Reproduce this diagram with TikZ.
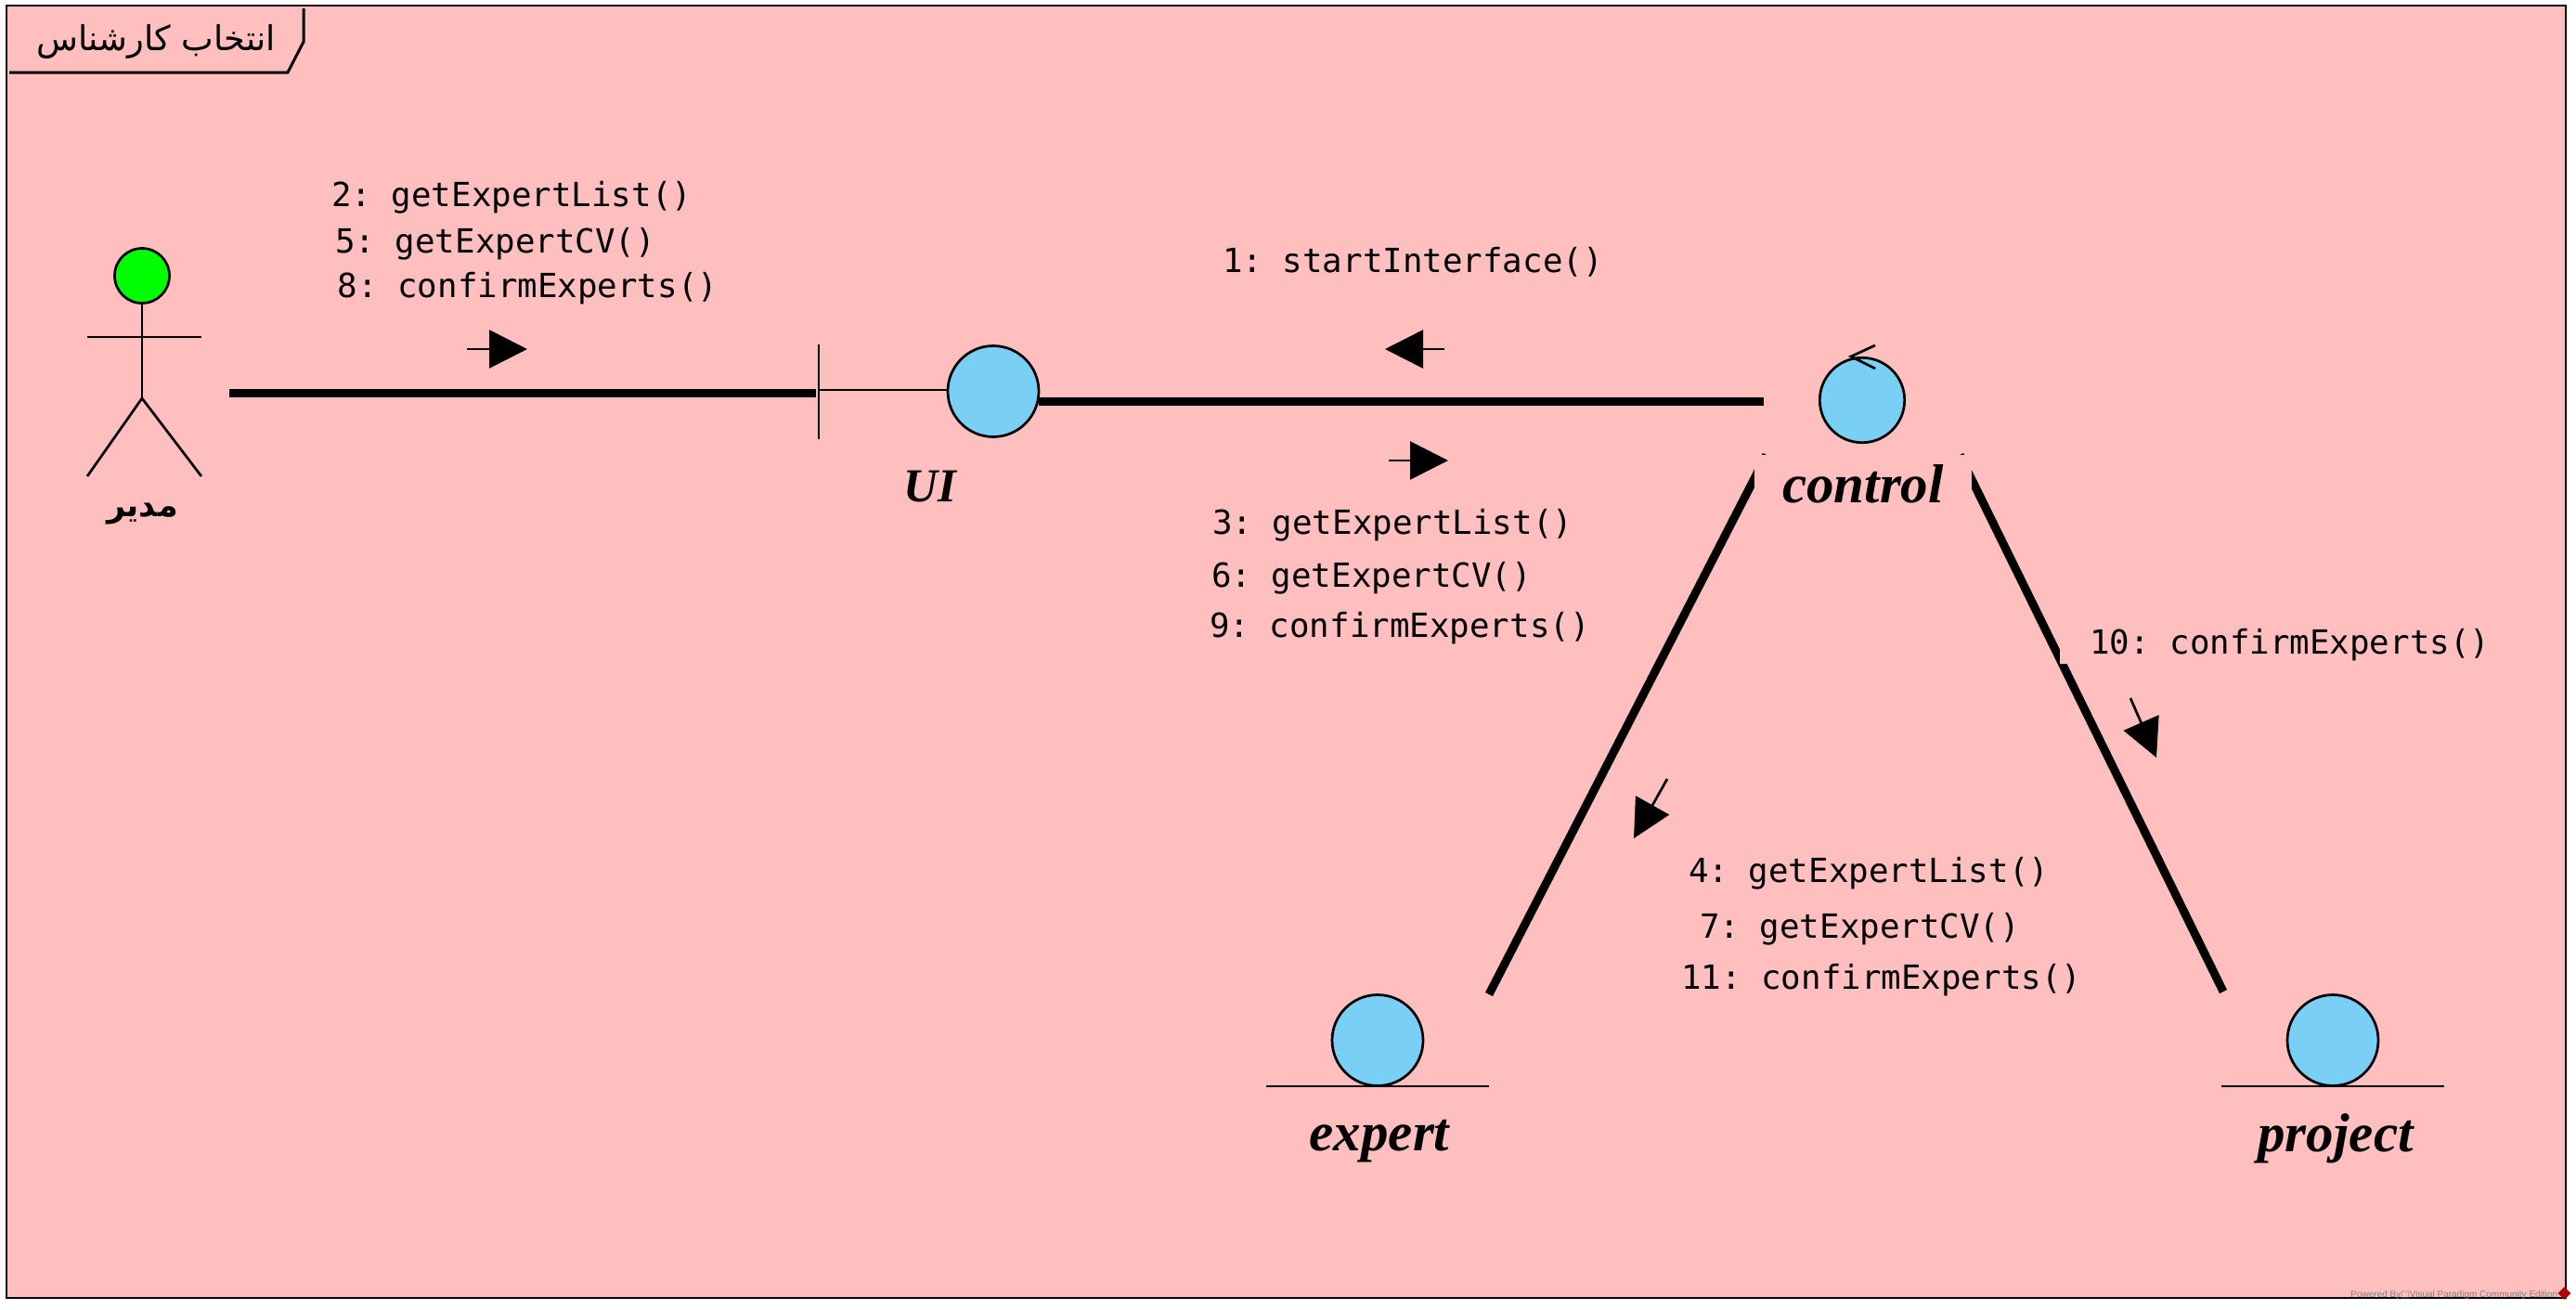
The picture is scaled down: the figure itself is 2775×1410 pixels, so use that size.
\documentclass[tikz,border=0pt]{standalone}
\usepackage{fontspec}
\usetikzlibrary{arrows.meta,shapes.geometric}
\TeXXeTstate=1
\setmainfont{Liberation Serif}
\newfontfamily\arabicfont[Script=Arabic]{DejaVu Sans}
\newfontfamily\msgfont{DejaVu Sans Mono}
\newfontfamily\markfont{Liberation Sans}
\newfontfamily\boxfont{DejaVu Sans}
\newcommand\msgtextfont{\msgfont\fontsize{17.9}{20}\selectfont\spaceskip=7.1pt\relax}
\definecolor{bgpink}{HTML}{FFBFBF}
\definecolor{entityblue}{HTML}{7ACFF5}
\tikzset{
  assoc/.style={line width=4.5pt},
  thinline/.style={line width=1.35pt},
  objcircle/.style={circle,draw,line width=1.35pt,fill=entityblue,minimum size=49pt,inner sep=0pt},
  objname/.style={anchor=base,inner sep=0pt,font=\bfseries\itshape\fontsize{29.5}{32}\selectfont},
  msg/.style={anchor=base west,inner sep=0pt,font=\msgtextfont},
  msgarrow/.style={thinline,-{Triangle[length=20.5pt,width=20.5pt]}}
}
\begin{document}
\begin{tikzpicture}[x=0.5pt,y=-0.5pt]

\useasboundingbox (0,0) rectangle (2775,1410) ;

\draw[line width=1.4pt,fill=bgpink] (7,6) rectangle (2764,1398) ;

\coordinate (pt_actor_east) at (247,423) ;
\coordinate (pt_ui_stop) at (879,423) ;
\coordinate (pt_ui_bar) at (882,420) ;
\coordinate (pt_ui_east) at (1119,432) ;
\coordinate (pt_ctrl_west) at (1900,432) ;
\coordinate (pt_ctrl_left) at (1903,490) ;
\coordinate (pt_ctrl_right) at (2111,490) ;
\coordinate (pt_expert_end) at (1604,1071) ;
\coordinate (pt_project_end) at (2395,1068) ;

% frame title
\draw[line width=1.5pt] (327,9) -- (327,45) -- (310,78) -- (10,78) ;
\node[inner sep=0pt,font=\arabicfont\fontsize{18.4}{20}\selectfont] (title) at (168,45) {\beginR انتخاب کارشناس\endR} ;

% thick links
\draw[assoc] (pt_actor_east) -- (pt_ui_stop) ;
\draw[assoc] (pt_ui_east) -- (pt_ctrl_west) ;
\draw[assoc] (pt_expert_end) -- (pt_ctrl_left) ;
\draw[assoc] (pt_project_end) -- (pt_ctrl_right) ;

% actor
\node[circle,draw,line width=1.35pt,fill=green,minimum size=29.5pt,inner sep=0pt] (actor_head) at (153,297) {} ;
\coordinate (pt_hip) at (153,429) ;
\draw[thinline] (actor_head) -- (pt_hip) ;
\draw[thinline] (94,363) -- (217,363) ;
\draw[thinline] (94,513) -- (pt_hip) -- (217,513) ;
\node[inner sep=0pt,font=\arabicfont\bfseries\fontsize{17.5}{19}\selectfont] (actor_name) at (153.5,553) {\beginR مدیر\endR} ;

% UI
\node[objcircle] (ui) at (1070,421.5) {} ;
\draw[thinline] (882,371) -- (882,473) ;
\draw[thinline] (pt_ui_bar) -- (ui.west |- pt_ui_bar) ;
\node[objname,font=\bfseries\itshape\fontsize{25.5}{28}\selectfont] (ui_name) at (1002,540) {UI} ;

% control
\node[objcircle,minimum size=45.7pt] (control) at (2006,431) {} ;
\draw[thinline] (control.north) ++(14,-12) -- ++(-26,12) -- ++(26,13) ;
\node[objname,fill=bgpink,minimum width=117pt,text height=25.5pt,text depth=10pt] (control_name) at (2007,541) {control} ;

% expert
\node[objcircle] (expert) at (1484,1120.5) {} ;
\draw[thinline] (1364,1170) -- (1604,1170) ;
\node[objname] (expert_name) at (1486,1239) {expert} ;

% project
\node[objcircle] (project) at (2513,1120.5) {} ;
\draw[thinline] (2393,1170) -- (2633,1170) ;
\node[objname] (project_name) at (2516,1240) {project} ;

% messages
\node[msg] (msg_a1) at (357,222) {2: getExpertList()} ;
\node[msg] (msg_a2) at (361,272) {5: getExpertCV()} ;
\node[msg] (msg_a3) at (363.5,320) {8: confirmExperts()} ;

\node[msg] (msg_b0) at (1317,293) {1: startInterface()} ;
\node[msg] (msg_b1) at (1306,575) {3: getExpertList()} ;
\node[msg] (msg_b2) at (1305,632) {6: getExpertCV()} ;
\node[msg] (msg_b3) at (1303,686.5) {9: confirmExperts()} ;

\node[msg,fill=bgpink,inner xsep=16pt,inner ysep=1.3pt] (msg_c1) at (2219,704.5) {10: confirmExperts()} ;

\node[msg] (msg_d1) at (1819,950) {4: getExpertList()} ;
\node[msg] (msg_d2) at (1831,1010) {7: getExpertCV()} ;
\node[msg] (msg_d3) at (1811,1065) {11: confirmExperts()} ;

% message arrows
\draw[msgarrow] (503,376) -- (568,376) ;
\draw[msgarrow] (1556,376) -- (1492,376) ;
\draw[msgarrow] (1496,496) -- (1560,496) ;
\draw[msgarrow] (1796,839) -- (1760,903) ;
\draw[msgarrow] (2295,752) -- (2323,816) ;

% watermark
\node[anchor=base west,inner sep=0pt,text=gray,font=\markfont\fontsize{5}{6}\selectfont] (mark_text) at (2532,1397) {Powered By{\boxfont □}Visual Paradigm Community Edition} ;
\node[diamond,fill=red!70!black,minimum size=7pt,inner sep=0pt] (mark_logo) at (2762.5,1393) {} ;

\end{tikzpicture}
\end{document}
